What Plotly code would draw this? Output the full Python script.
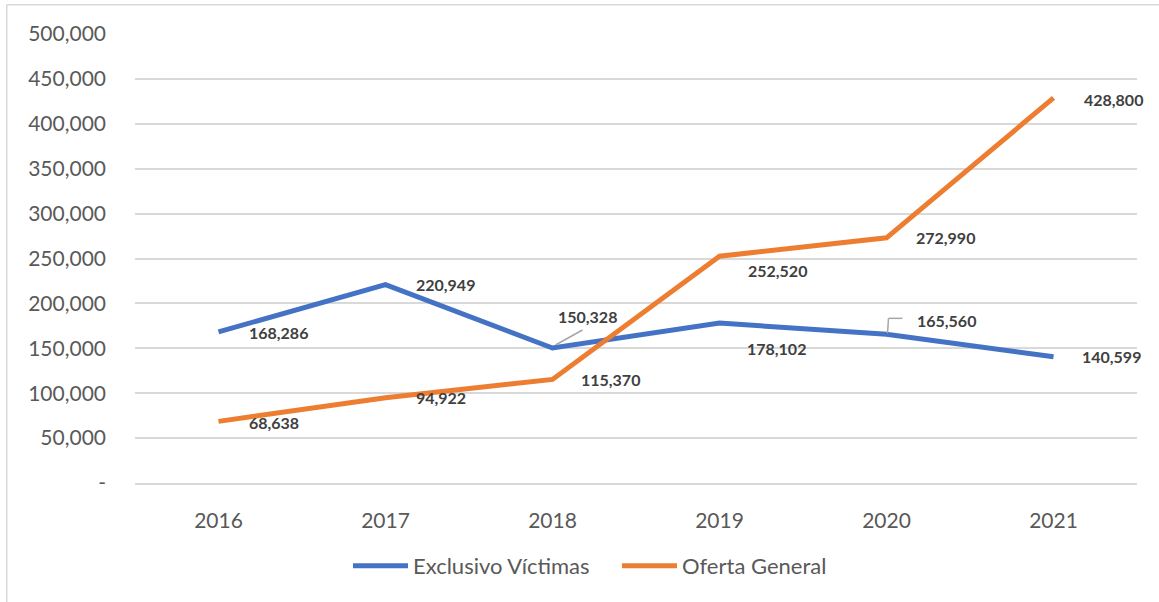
import plotly.graph_objects as go

years = ["2016", "2017", "2018", "2019", "2020", "2021"]
exclusivo_victimas = [168286, 220949, 150328, 178102, 165560, 140599]
oferta_general = [68638, 94922, 115370, 252520, 272990, 428800]
y_ticks = [0, 50000, 100000, 150000, 200000, 250000, 300000, 350000, 400000, 450000, 500000]
y_tick_labels = ["-" if v == 0 else f"{v:,}" for v in y_ticks]

BLUE = "#4472C4"
ORANGE = "#ED7D31"
GRID = "#D9D9D9"
TXT = "#595959"
LBL = "#404040"
FONT = "Lato"

xi = list(range(len(years)))

# label offsets (px) relative to each point: (xshift, yshift)
off_v = [(28, -1), (28, 0), (3, 32), (25, -25), (28, 14), (26, 0)]
off_o = [(28, -1), (28, 0), (26, 0), (26, -14), (27, 0), (28, -2)]

fig = go.Figure()
fig.add_trace(go.Scatter(x=xi, y=exclusivo_victimas, mode="lines", name="Exclusivo Víctimas",
                         line=dict(color=BLUE, width=5)))
fig.add_trace(go.Scatter(x=xi, y=oferta_general, mode="lines", name="Oferta General",
                         line=dict(color=ORANGE, width=5)))

for series, offs in ((exclusivo_victimas, off_v), (oferta_general, off_o)):
    for i, v, (dx, dy) in zip(xi, series, offs):
        fig.add_annotation(x=i, y=v, text=f"<b>{v:,}</b>", showarrow=False,
                           xanchor="left", yanchor="middle", xshift=dx, yshift=dy,
                           font=dict(family=FONT, size=16, color=LBL))

# leader lines
leader = dict(type="line", xref="x", yref="y", xsizemode="pixel", ysizemode="pixel",
              line=dict(color="#A6A6A6", width=1.5))
fig.add_shape(**leader, xanchor=xi[2], yanchor=exclusivo_victimas[2], x0=3, y0=3, x1=30, y1=18)
fig.add_shape(**leader, xanchor=xi[4], yanchor=exclusivo_victimas[4], x0=1, y0=1, x1=2, y1=16)
fig.add_shape(**leader, xanchor=xi[4], yanchor=exclusivo_victimas[4], x0=2, y0=16, x1=16, y1=16)

# outer frame (left and top edges)
fig.add_shape(type="line", xref="paper", yref="paper", x0=-0.128, x1=1.03, y0=1.065, y1=1.065,
              line=dict(color=GRID, width=1.5))
fig.add_shape(type="line", xref="paper", yref="paper", x0=-0.128, x1=-0.128, y0=1.065, y1=-0.3,
              line=dict(color=GRID, width=1.5))

fig.update_layout(
    width=1159, height=602,
    margin=dict(l=135, r=22, t=34, b=119),
    paper_bgcolor="white", plot_bgcolor="white",
    font=dict(family=FONT, size=21, color=TXT),
    showlegend=True,
    legend=dict(orientation="h", x=(353 - 135 - 5) / 1002, xanchor="left", y=-0.185, yanchor="middle",
                font=dict(family=FONT, size=22, color=TXT), itemwidth=55,
                entrywidth=199, entrywidthmode="pixels", tracegroupgap=0),
    xaxis=dict(range=[-0.5, 5.5], tickvals=xi, ticktext=years, showgrid=False,
               showline=True, linecolor=GRID, linewidth=1.5, zeroline=False,
               ticks="", ticklabelstandoff=18, tickfont=dict(size=21, color=TXT)),
    yaxis=dict(range=[0, 500000], tickvals=y_ticks, ticktext=y_tick_labels,
               showgrid=True, gridcolor=GRID, gridwidth=1.5, zeroline=False,
               ticks="", ticklabelstandoff=28, tickfont=dict(size=21, color=TXT)),
)

fig.write_html("out.html", config={"displayModeBar": False},
               post_script="document.body.style.margin='0';document.body.style.overflow='hidden';")
